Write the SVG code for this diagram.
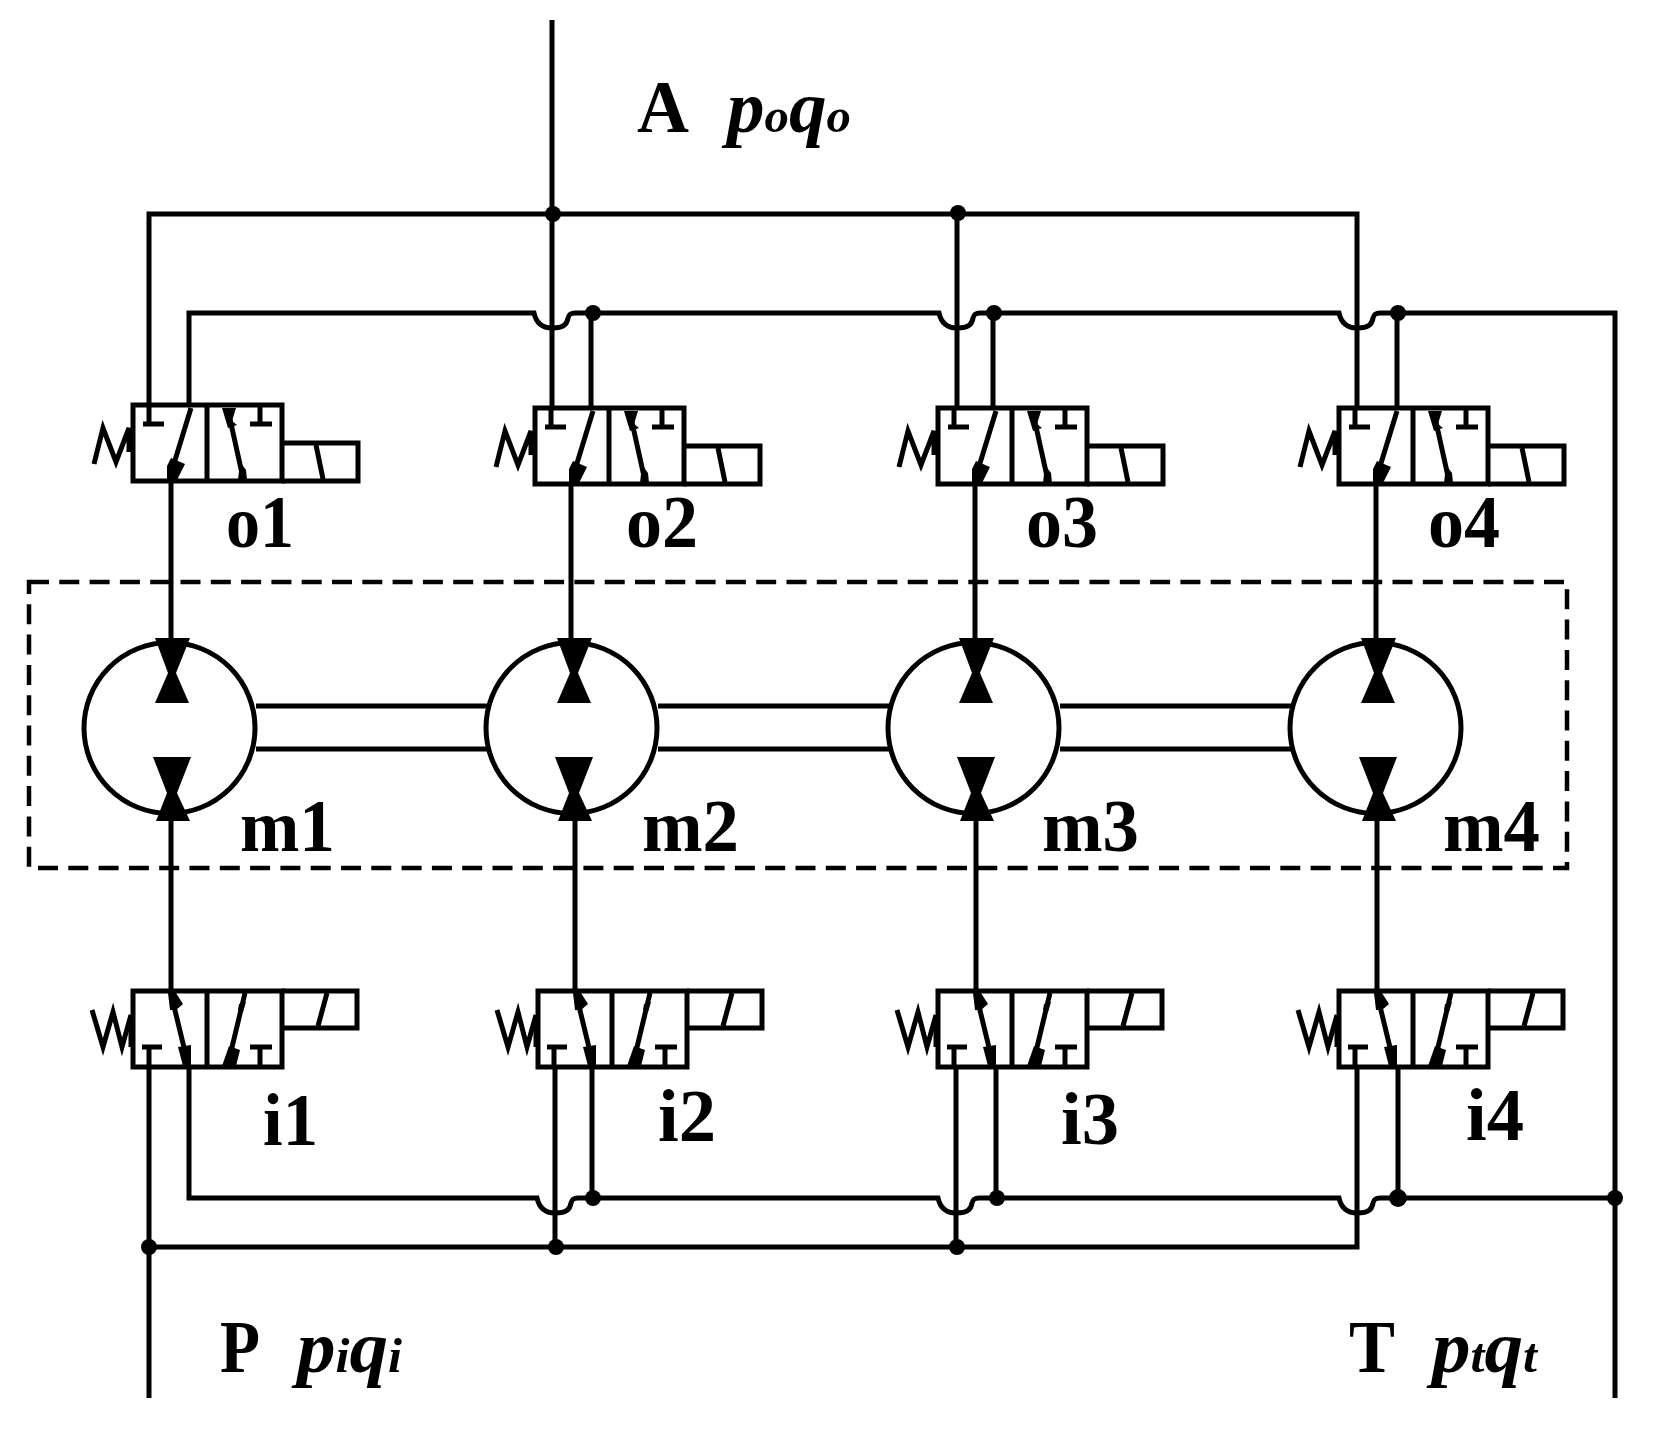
<svg xmlns="http://www.w3.org/2000/svg" width="1662" height="1446" viewBox="0 0 1662 1446">
<style>
.l{fill:none;stroke:#000;stroke-width:5}
.t{fill:none;stroke:#000;stroke-width:5}
.f{fill:#000}
.lb{font-family:"Liberation Serif",serif;font-weight:bold;font-size:74px;fill:#000}
.v{font-family:"Liberation Serif",serif;font-weight:bold;font-style:italic;font-size:74px;fill:#000}
.s{font-size:48px}
</style>
<defs>
<g id="top">
<rect class="l" x="133" y="405" width="149" height="76"/>
<path class="l" d="M207 405V481M282 443H358V481H282M143 424H164M149 405V424M250 424H272M260 405V424"/>
<path class="t" d="M191 408L172 470M228 410L243 478M316 445L323 479M94 464L103 428L116 462L129 428L129 452"/>
<path class="l" d="M130 428V452" stroke-width="7"/>
<path class="f" d="M167 482V466L171 458L185 464L176 482ZM222 408H236L232 421L237 425L228 428ZM240 462L246 470L247 480H238Z"/>
</g>
<g id="bot">
<rect class="l" x="133" y="991" width="149" height="76"/>
<path class="l" d="M207 991V1067M282 991H357V1028H282M142 1047H162M149 1047V1067M250 1047H272M260 1047V1067"/>
<path class="t" d="M172 998L188 1064M245 993L228 1064M327 993L318 1026M92 1010L103 1047L113 1012L122 1047L131 1015"/>
<path class="l" d="M131 1017V1047" stroke-width="6"/>
<path class="f" d="M168 993H176L183 1004L176 1010H170ZM178 1047L191 1045V1066H183ZM229 1046L240 1050L236 1066H222ZM239 1004L246 1002L243 1012L238 1010Z"/>
</g>
<g id="motor">
<circle cx="169.500" cy="728" r="85.500" fill="#fff" stroke="#000" stroke-width="5"/>
<path class="f" d="M155 638H190L176 673L189 703H155L168 673ZM153 757H191L177 793L190 821H156L167 793Z"/>
</g>
</defs>
<g id="connectors" class="l">
<path class="l" d="M552 20V408M149 405V214H1357V408M957 214V408"/>
<path class="l" d="M189 405V313H534C536 322 541 328 552 328C564 328 567 324 568 318C569 314 571 313 575 313H939C941 322 946 328 957 328C969 328 972 324 973 318C974 314 976 313 980 313H1339C1341 322 1346 328 1357 328C1369 328 1372 324 1373 318C1374 314 1376 313 1380 313H1615V1398"/>
<path class="l" d="M591 313V408M993 313V408M1397 313V408"/>
<path class="l" d="M171 481V640M171 820V991M571 484V640M575 820V991M975 484V640M976 820V991M1376 484V640M1377 820V991"/>
<path class="l" d="M256 706H488M256 749H488M658 706H890M658 749H890M1060 706H1292M1060 749H1292"/>
<path class="l" d="M149 1067V1398M149 1247H1357V1067M555 1067V1247M956 1067V1247"/>
<path class="l" d="M189 1067V1198H537C539 1207 544 1213 555 1213C567 1213 570 1209 571 1203C572 1199 574 1198 578 1198H938C940 1207 945 1213 956 1213C968 1213 971 1209 972 1203C973 1199 975 1198 979 1198H1339C1341 1207 1346 1213 1357 1213C1369 1213 1372 1209 1373 1203C1374 1199 1376 1198 1380 1198H1615"/>
<path class="l" d="M592 1067V1198M996 1067V1198M1398 1067V1198"/>
<g class="f" stroke="none">
<circle cx="553" cy="214" r="8"/><circle cx="958" cy="213" r="8"/>
<circle cx="593" cy="313" r="8"/><circle cx="994" cy="313" r="8"/><circle cx="1398" cy="313" r="8"/>
<circle cx="149" cy="1247" r="8"/><circle cx="556" cy="1247" r="8"/><circle cx="957" cy="1247" r="8"/>
<circle cx="593" cy="1198" r="8"/><circle cx="997" cy="1198" r="8"/><circle cx="1398" cy="1198" r="9"/><circle cx="1615" cy="1198" r="8"/>
</g>
</g>
<rect id="housing" x="29" y="582" width="1538" height="286" fill="none" stroke="#000" stroke-width="4.500" stroke-dasharray="20 10.300"/>
<g id="o1"><use href="#top"/><text class="lb" x="226" y="547" textLength="68" lengthAdjust="spacingAndGlyphs">o1</text></g>
<g id="o2"><use href="#top" x="402" y="3"/><text class="lb" x="626" y="547" textLength="72" lengthAdjust="spacingAndGlyphs">o2</text></g>
<g id="o3"><use href="#top" x="805" y="3"/><text class="lb" x="1026" y="547" textLength="72" lengthAdjust="spacingAndGlyphs">o3</text></g>
<g id="o4"><use href="#top" x="1206" y="3"/><text class="lb" x="1428" y="547" textLength="72" lengthAdjust="spacingAndGlyphs">o4</text></g>
<g id="m1"><use href="#motor"/><text class="lb" x="240" y="851" textLength="95" lengthAdjust="spacingAndGlyphs">m1</text></g>
<g id="m2"><use href="#motor" x="402"/><text class="lb" x="642" y="851" textLength="97" lengthAdjust="spacingAndGlyphs">m2</text></g>
<g id="m3"><use href="#motor" x="804"/><text class="lb" x="1042" y="851" textLength="97" lengthAdjust="spacingAndGlyphs">m3</text></g>
<g id="m4"><use href="#motor" x="1206"/><text class="lb" x="1443" y="851" textLength="97" lengthAdjust="spacingAndGlyphs">m4</text></g>
<g id="i1"><use href="#bot"/><text class="lb" x="263" y="1145" textLength="55" lengthAdjust="spacingAndGlyphs">i1</text></g>
<g id="i2"><use href="#bot" x="405"/><text class="lb" x="658" y="1141" textLength="58" lengthAdjust="spacingAndGlyphs">i2</text></g>
<g id="i3"><use href="#bot" x="805"/><text class="lb" x="1061" y="1144" textLength="58" lengthAdjust="spacingAndGlyphs">i3</text></g>
<g id="i4"><use href="#bot" x="1206"/><text class="lb" x="1466" y="1140" textLength="58" lengthAdjust="spacingAndGlyphs">i4</text></g>
<g id="labels">
<text class="lb" x="637" y="132" textLength="52" lengthAdjust="spacingAndGlyphs">A</text>
<text class="v" x="727" y="132" textLength="124" lengthAdjust="spacingAndGlyphs">p<tspan class="s">o</tspan>q<tspan class="s">o</tspan></text>
<text class="lb" x="220" y="1372" textLength="40" lengthAdjust="spacingAndGlyphs">P</text>
<text class="v" x="297" y="1372" textLength="105" lengthAdjust="spacingAndGlyphs">p<tspan class="s">i</tspan>q<tspan class="s">i</tspan></text>
<text class="lb" x="1349" y="1372" textLength="46" lengthAdjust="spacingAndGlyphs">T</text>
<text class="v" x="1432" y="1372" textLength="105" lengthAdjust="spacingAndGlyphs">p<tspan class="s">t</tspan>q<tspan class="s">t</tspan></text>
</g>
</svg>
